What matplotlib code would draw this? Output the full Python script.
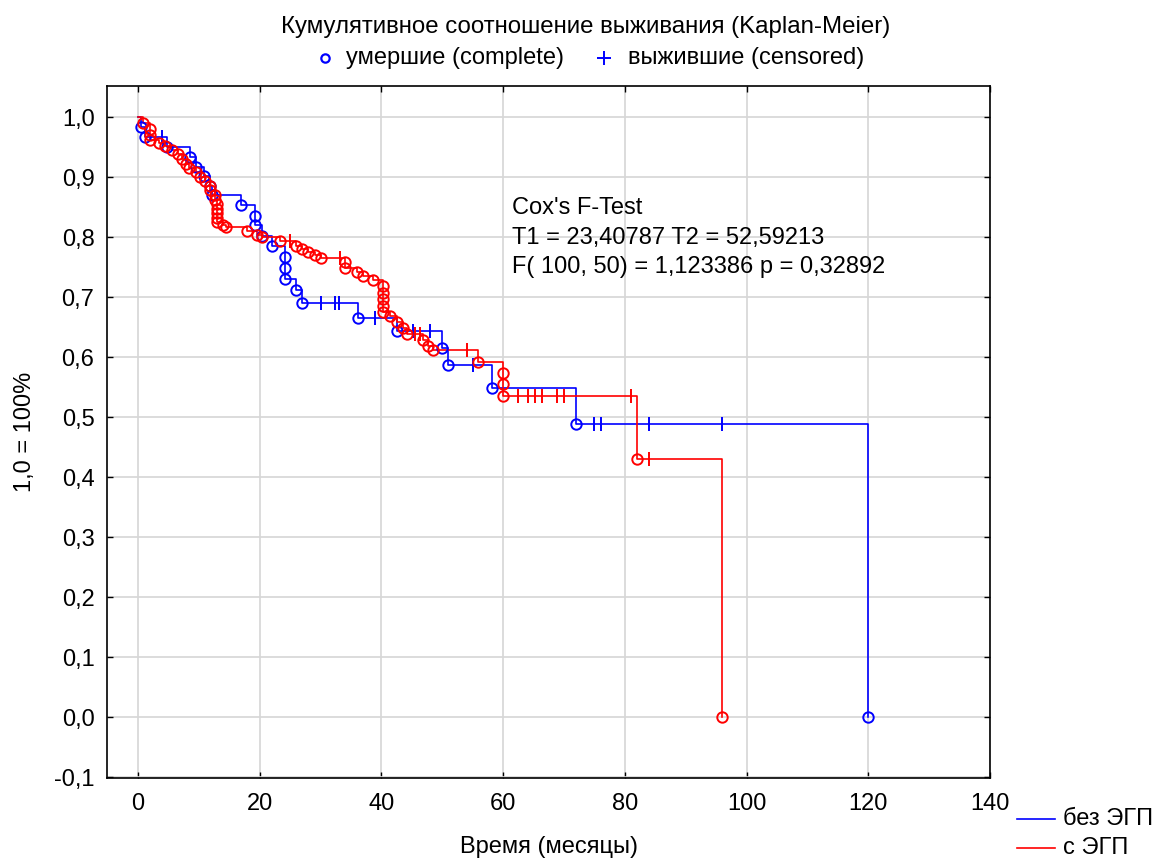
import matplotlib
matplotlib.use("Agg")
import matplotlib.pyplot as plt
import numpy as np
from matplotlib.lines import Line2D
from matplotlib.ticker import FuncFormatter

plt.rcParams['font.family'] = ['Liberation Sans', 'DejaVu Sans']

# без ЭГП: deaths (time, survival after death) and censored times
blue_death_t = [0.5, 1.2, 4.8, 8.5, 9.5, 10.8, 11.8, 12.2, 17.0, 19.2, 19.2, 20.4, 22.0,
                24.2, 24.2, 24.2, 26.0, 27.0, 36.2, 42.5, 50.0, 51.0, 58.2, 72.0, 120.0]
blue_death_s = [0.983, 0.967, 0.950, 0.933, 0.917, 0.902, 0.886, 0.871, 0.853, 0.836, 0.820,
                0.802, 0.785, 0.767, 0.748, 0.730, 0.712, 0.690, 0.666, 0.643, 0.615, 0.587,
                0.549, 0.488, 0.0]
blue_cens_t = [4.0, 30.0, 32.4, 33.0, 39.0, 45.2, 48.0, 55.0, 75.0, 76.0, 84.0, 96.0]

# с ЭГП
red_death_t = [0.8, 2.0, 2.0, 2.0, 3.5, 4.5, 5.5, 6.5, 7.3, 7.8, 8.3, 9.5, 10.2, 11.0,
               11.8, 11.8, 12.6, 12.6, 13.0, 13.0, 13.0, 13.0, 13.0, 14.0, 14.5, 17.9,
               19.6, 20.4, 23.3, 26.0, 27.0, 28.0, 29.0, 30.0, 34.0, 34.0, 36.0, 37.0,
               38.6, 40.2, 40.2, 40.2, 40.2, 40.2, 41.4, 42.5, 43.6, 44.2, 46.8, 47.6,
               48.5, 55.9, 60.0, 60.0, 60.0, 82.0, 96.0]
red_death_s = [0.990, 0.980, 0.970, 0.962, 0.957, 0.952, 0.945, 0.938, 0.930, 0.922, 0.915,
               0.908, 0.900, 0.893, 0.886, 0.878, 0.870, 0.862, 0.855, 0.847, 0.840, 0.832,
               0.825, 0.820, 0.817, 0.810, 0.803, 0.800, 0.793, 0.785, 0.780, 0.775, 0.770,
               0.766, 0.758, 0.748, 0.742, 0.736, 0.728, 0.718, 0.707, 0.697, 0.686, 0.676,
               0.668, 0.658, 0.648, 0.638, 0.628, 0.618, 0.612, 0.592, 0.574, 0.555, 0.535,
               0.430, 0.0]
red_cens_t = [25.0, 33.2, 45.5, 46.3, 54.0, 62.5, 64.0, 65.2, 66.4, 68.9, 70.0, 81.0, 84.0]

cox_lines = ["Cox's F-Test",
             "T1 = 23,40787 T2 = 52,59213",
             "F( 100, 50) = 1,123386 p = 0,32892"]

BLUE = "#0000ff"
RED = "#ff0000"
FS = 17


def surv_at(t_deaths, s_deaths, t):
    # survival value of the step curve just at time t
    idx = np.searchsorted(np.asarray(t_deaths), t, side="right") - 1
    return 1.0 if idx < 0 else s_deaths[idx]


def draw_group(ax, t_deaths, s_deaths, t_cens, color):
    xs = [0.0] + list(t_deaths)
    ys = [1.0] + list(s_deaths)
    ax.plot(xs, ys, drawstyle="steps-post", color=color, lw=1.2, zorder=3)
    ax.plot(t_deaths, s_deaths, linestyle="none", marker="o", markersize=7.5,
            markerfacecolor="none", markeredgecolor=color, markeredgewidth=1.4, zorder=4)
    cs = [surv_at(t_deaths, s_deaths, t) for t in t_cens]
    ax.plot(t_cens, cs, linestyle="none", marker="|", markersize=10,
            markeredgecolor=color, markeredgewidth=1.4, zorder=4)


fig = plt.figure(figsize=(11.57, 8.6), dpi=100)
ax = fig.add_axes([107 / 1157, 82 / 860, 883 / 1157, 692 / 860])

draw_group(ax, blue_death_t, blue_death_s, blue_cens_t, BLUE)
draw_group(ax, red_death_t, red_death_s, red_cens_t, RED)

ax.set_xlim(-5.1, 140)
ax.set_ylim(-0.101, 1.052)
ax.set_xticks(np.arange(0, 141, 20))
ax.set_yticks(np.round(np.arange(-0.1, 1.01, 0.1), 1))
ax.yaxis.set_major_formatter(FuncFormatter(lambda v, p: f"{v:.1f}".replace(".", ",")))
ax.tick_params(direction="in", length=4, width=1, top=True, right=True, labelsize=FS)
ax.tick_params(axis="y", pad=9)
ax.tick_params(axis="x", pad=11)
ax.grid(True, color="#d6d6d6", lw=1.2)
ax.set_axisbelow(True)
for sp in ax.spines.values():
    sp.set_linewidth(1.2)

ax.set_xlabel("Время (месяцы)", fontsize=FS, labelpad=15)
ax.set_ylabel("1,0 = 100%", fontsize=FS, labelpad=13)

for i, line in enumerate(cox_lines):
    ax.text(61.5, 0.848 - i * 0.049, line, fontsize=FS, va="center", ha="left")

fig.text(586 / 1157, 1 - 27 / 860, "Кумулятивное соотношение выживания (Kaplan-Meier)",
         fontsize=17.3, ha="center", va="center")

# top legend with marker meanings
fig.add_artist(Line2D([325 / 1157], [1 - 58 / 860], marker="o", markersize=6,
                      markerfacecolor="none", markeredgecolor=BLUE, markeredgewidth=1.6,
                      transform=fig.transFigure))
fig.text(346 / 1157, 1 - 58 / 860, "умершие (complete)", fontsize=FS, va="center")
fig.add_artist(Line2D([604 / 1157], [1 - 58 / 860], marker="+", markersize=10,
                      markeredgecolor=BLUE, markeredgewidth=1.4,
                      transform=fig.transFigure))
fig.text(628 / 1157, 1 - 58 / 860, "выжившие (censored)", fontsize=FS, va="center")

# bottom-right legend
for label, color, ypx in [("без ЭГП", BLUE, 819), ("с ЭГП", RED, 848)]:
    yf = 1 - ypx / 860
    fig.add_artist(Line2D([1017 / 1157, 1055 / 1157], [yf, yf], color=color, lw=1.2,
                          transform=fig.transFigure))
    fig.text(1063 / 1157, yf, label, fontsize=FS, va="center")

fig.savefig("out.png", dpi=100)
